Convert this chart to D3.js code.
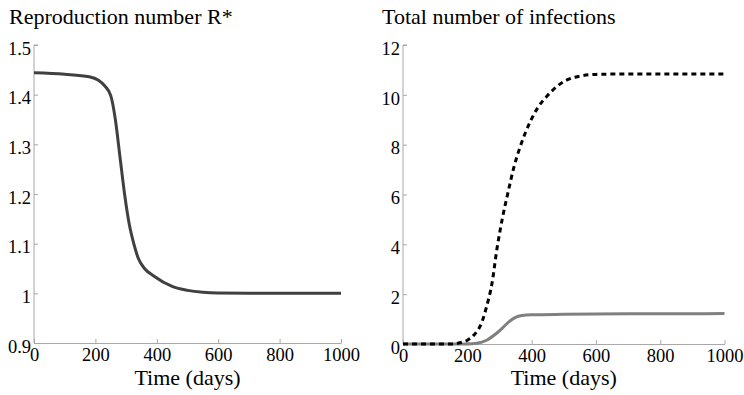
<!DOCTYPE html>
<html>
<head>
<meta charset="utf-8">
<script src="https://cdn.jsdelivr.net/npm/d3@7"></script>
<style>
  svg text { font-family: "Liberation Serif", serif !important; }
</style>
</head>
<body style="margin:0; background:#fff">
<script>
// left panel: reproduction number R*
var rDays   = [0, 100, 180, 210, 230, 250, 265, 280, 295, 310, 325, 340, 360, 390, 450, 500, 550, 600, 700, 1000];
var rValues = [1.444, 1.441, 1.436, 1.429, 1.418, 1.398, 1.35, 1.275, 1.2, 1.14, 1.1, 1.07, 1.05, 1.035, 1.014, 1.006, 1.002, 1.0005, 1.0, 1.0];

// right panel: total number of infections
var solidDays   = [0, 200, 230, 260, 290, 310, 330, 350, 370, 400, 500, 700, 1000];
var solidValues = [0, 0.0, 0.03, 0.15, 0.42, 0.65, 0.9, 1.07, 1.14, 1.17, 1.19, 1.21, 1.22];
var dashDays   = [0, 150, 180, 200, 220, 246, 260, 277, 292, 310, 327, 345, 364, 395, 420, 448, 480, 510, 550, 600, 700, 1000];
var dashValues = [0, 0.0, 0.06, 0.15, 0.35, 0.9, 1.5, 2.45, 3.8, 5.1, 6.1, 7.1, 7.9, 8.9, 9.5, 9.95, 10.35, 10.6, 10.75, 10.82, 10.84, 10.84];

var xTicks = [0, 200, 400, 600, 800, 1000];
var rTicks = [0.9, 1, 1.1, 1.2, 1.3, 1.4, 1.5];
var infTicks = [0, 2, 4, 6, 8, 10, 12];

var svg = d3.select("body").append("svg")
    .attr("width", 744)
    .attr("height", 395);

function setFont(sel, size) {
  sel.attr("font-family", "Liberation Serif")
     .attr("font-size", size)
     .style("font-family", "Liberation Serif", "important")
     .style("font-size", size + "px");
}

function panel(opts) {
  var x = d3.scaleLinear().domain([0, 1000]).range([opts.left, opts.right]);
  var y = d3.scaleLinear().domain(opts.yDomain).range([opts.bottom, opts.top]);

  // x axis, ticks pointing inward (matlab style)
  var gx = svg.append("g")
      .attr("transform", "translate(0," + opts.bottom + ")")
      .call(d3.axisBottom(x).tickValues(xTicks).tickSizeInner(-4).tickSizeOuter(0).tickPadding(5).tickFormat(d3.format("d")));
  gx.selectAll("path, line").attr("stroke", "#a8a8a8");
  gx.selectAll("text").attr("dy", "0.71em").attr("fill", "#000").call(setFont, 18.5);

  var gy = svg.append("g")
      .attr("transform", "translate(" + opts.left + ",0)")
      .call(d3.axisLeft(y).tickValues(opts.yTicks).tickSizeInner(-4).tickSizeOuter(0).tickPadding(3).tickFormat(opts.fmt));
  gy.selectAll("path, line").attr("stroke", "#a8a8a8");
  gy.selectAll("text").attr("dy", "0.5em").attr("fill", "#000").call(setFont, 18.5);
  gy.select(".domain").attr("d", "M0," + opts.bottom + "V" + opts.top + "h4");

  svg.append("text")
      .attr("x", opts.titleX)
      .attr("y", 24)
      .attr("fill", "#000")
      .call(setFont, 22)
      .text(opts.title);

  svg.append("text")
      .attr("x", (opts.left + opts.right) / 2)
      .attr("y", 385)
      .attr("text-anchor", "middle")
      .attr("fill", "#000")
      .call(setFont, 22)
      .text("Time (days)");

  return {x: x, y: y};
}

var left = panel({left: 34, right: 341, top: 45, bottom: 343, yDomain: [0.9, 1.5], yTicks: rTicks,
                  fmt: function(d) { return d === 1 ? "1" : d3.format(".1f")(d); },
                  title: "Reproduction number R*", titleX: 9});

var right = panel({left: 403, right: 724.5, top: 45, bottom: 344, yDomain: [0, 12], yTicks: infTicks,
                   fmt: d3.format("d"), title: "Total number of infections", titleX: 382});

var rLine = d3.line()
    .curve(d3.curveMonotoneX)
    .x(function(d, i) { return left.x(rDays[i]); })
    .y(function(d) { return left.y(d); });

svg.append("path")
    .attr("d", rLine(rValues))
    .attr("fill", "none")
    .attr("stroke", "#404040")
    .attr("stroke-width", 3);

var solidLine = d3.line()
    .curve(d3.curveMonotoneX)
    .x(function(d, i) { return right.x(solidDays[i]); })
    .y(function(d) { return right.y(d); });

var dashLine = d3.line()
    .curve(d3.curveMonotoneX)
    .x(function(d, i) { return right.x(dashDays[i]); })
    .y(function(d) { return right.y(d); });

svg.append("path")
    .attr("d", solidLine(solidValues))
    .attr("fill", "none")
    .attr("stroke", "#808080")
    .attr("stroke-width", 3);

svg.append("path")
    .attr("d", dashLine(dashValues))
    .attr("fill", "none")
    .attr("stroke", "#000")
    .attr("stroke-width", 3)
    .attr("stroke-dasharray", "5,4");
</script>
</body>
</html>
